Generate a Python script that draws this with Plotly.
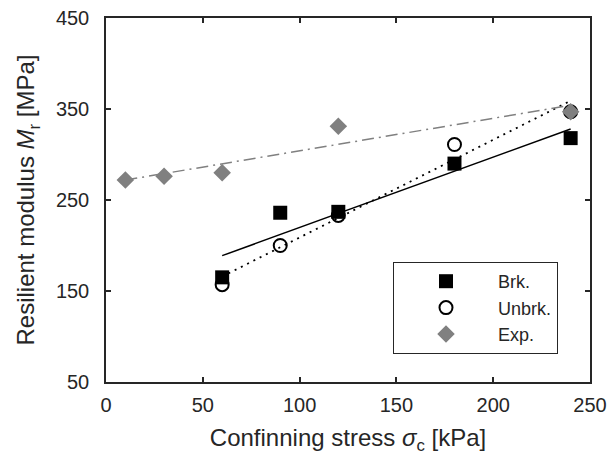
import numpy as np
import plotly.graph_objects as go

# Data
brk_x = [60, 90, 120, 180, 240]
brk_y = [165, 236, 237, 290, 318]
unbrk_x = [60, 90, 120, 180, 240]
unbrk_y = [157, 200, 233, 311, 347]
exp_x = [10, 30, 60, 120, 240]
exp_y = [272, 276, 280, 331, 347]

x_ticks = [0, 50, 100, 150, 200, 250]
y_ticks = [50, 150, 250, 350, 450]


def fit_line(xs, ys):
    k, b = np.polyfit(xs, ys, 1)
    xe = [min(xs), max(xs)]
    return xe, [k * v + b for v in xe]


FONT = "Liberation Sans, Arial, sans-serif"
INK = "#262626"

fig = go.Figure()

# Linear fit lines
fx, fy = fit_line(brk_x, brk_y)
fig.add_trace(go.Scatter(x=fx, y=fy, mode="lines", showlegend=False,
                         line=dict(color="black", width=1.5)))
fx, fy = fit_line(unbrk_x, unbrk_y)
fig.add_trace(go.Scatter(x=fx, y=fy, mode="lines", showlegend=False,
                         line=dict(color="black", width=1.8, dash="2px,5px")))
fx, fy = fit_line(exp_x, exp_y)
fig.add_trace(go.Scatter(x=fx, y=fy, mode="lines", showlegend=False,
                         line=dict(color="#808080", width=1.5, dash="12px,5px,2px,5px")))

# Markers
fig.add_trace(go.Scatter(x=brk_x, y=brk_y, mode="markers", name="Brk.",
                         marker=dict(symbol="square", size=14, color="black",
                                     line=dict(width=0))))
fig.add_trace(go.Scatter(x=unbrk_x, y=unbrk_y, mode="markers", name="Unbrk.",
                         marker=dict(symbol="circle", size=13, color="rgba(0,0,0,0)",
                                     line=dict(width=2, color="black"))))
fig.add_trace(go.Scatter(x=exp_x, y=exp_y, mode="markers", name="Exp.",
                         marker=dict(symbol="diamond", size=13.5, color="#808080",
                                     line=dict(width=0))))

axis_common = dict(
    showline=True, linecolor=INK, linewidth=1.5, mirror="ticks",
    ticks="inside", ticklen=5, tickwidth=1.5, tickcolor=INK,
    showgrid=False, zeroline=False, automargin=False,
    tickfont=dict(family=FONT, size=20, color=INK),
)

fig.update_layout(
    width=610, height=455,
    margin=dict(l=106, r=20, t=18, b=73),
    paper_bgcolor="white", plot_bgcolor="white",
    font=dict(family=FONT, color=INK),
    xaxis=dict(range=[0, 250], tickvals=x_ticks, ticklabelstandoff=4,
               title=dict(text="Confinning stress <i>σ</i><sub>c</sub> [kPa]",
                          font=dict(size=24, color=INK), standoff=16),
               **axis_common),
    yaxis=dict(range=[50, 450], tickvals=y_ticks, ticklabelstandoff=11,
               title=dict(text="Resilient modulus <i>M</i><sub>r</sub> [MPa]",
                          font=dict(size=24, color=INK), standoff=14),
               **axis_common),
    legend=dict(x=(393 - 106) / 484, y=(382 - 354) / 364, xanchor="left", yanchor="bottom",
                bordercolor=INK, borderwidth=1, bgcolor="white",
                font=dict(family=FONT, size=18, color=INK),
                itemwidth=94, tracegroupgap=0),
)

fig.write_html("out.html")
